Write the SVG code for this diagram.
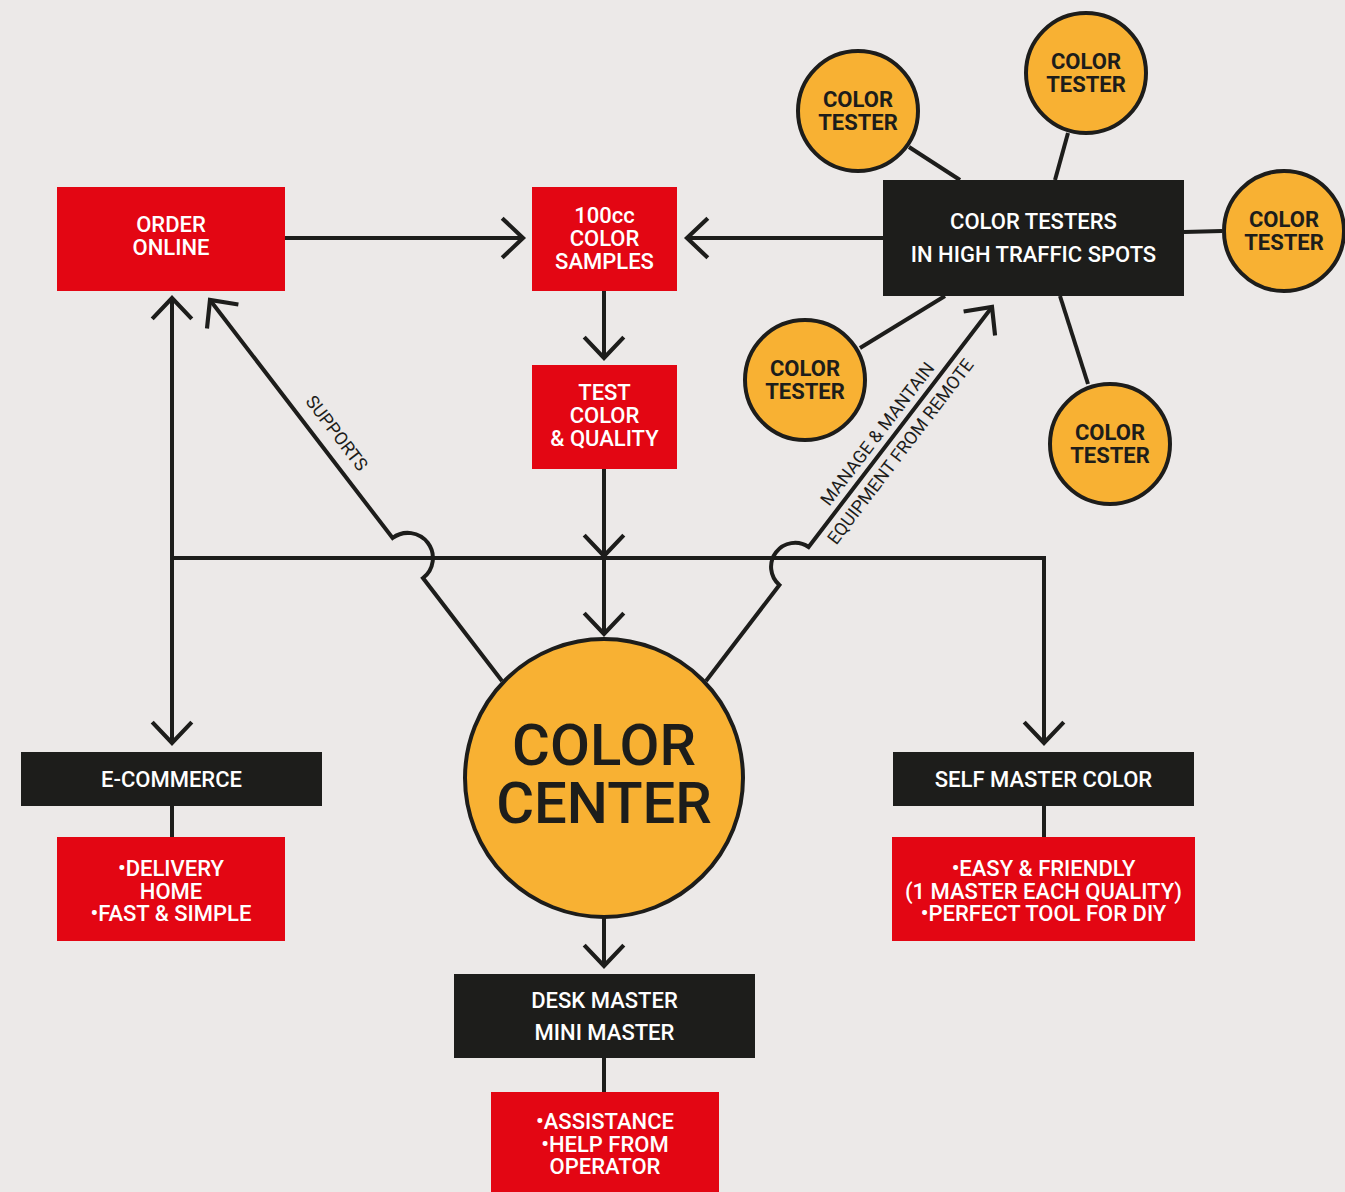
<svg xmlns="http://www.w3.org/2000/svg" width="1345" height="1192" viewBox="0 0 1345 1192">
<defs>
<marker id="chev" markerUnits="userSpaceOnUse" markerWidth="40" markerHeight="50" viewBox="-24 -24 28 48" refX="0" refY="0" orient="auto" overflow="visible">
<path d="M -20 -19 L 0 0 L -20 19" fill="none" stroke="#1d1d1b" stroke-width="4"/>
</marker>
</defs>
<style>
.bg{fill:#ece9e8}
.red{fill:#e30613}
.dark{fill:#1d1d1b}
.orb{fill:#f8b133;stroke:#1d1d1b;stroke-width:4}
.ln{fill:none;stroke:#1d1d1b;stroke-width:4}
.arr{fill:none;stroke:#1d1d1b;stroke-width:4;marker-end:url(#chev)}
.wt{font-family:Roboto,"Liberation Sans",sans-serif;font-weight:500;font-size:22px;fill:#ffffff;text-anchor:middle}
.ct{font-family:Roboto,"Liberation Sans",sans-serif;font-weight:700;font-size:22px;fill:#1d1d1b;text-anchor:middle}
.big{font-family:Roboto,"Liberation Sans",sans-serif;font-weight:500;font-size:58px;fill:#1d1d1b;text-anchor:middle}
.lbl{font-family:Roboto,"Liberation Sans",sans-serif;font-weight:400;font-size:18px;fill:#1d1d1b;text-anchor:middle}
</style>
<rect class="bg" x="0" y="0" width="1345" height="1192"/>

<g id="connectors">
<path class="arr" d="M285 238 H523"/>
<path class="arr" d="M883 238 H687"/>
<path class="arr" d="M604 291 V358"/>
<path class="arr" d="M604 469 V556"/>
<path class="arr" d="M604 558 V634"/>
<path class="arr" d="M172 558 V298"/>
<path class="arr" d="M172 558 V743"/>
<path class="arr" d="M172 558 H1044 V743"/>
<path class="arr" d="M604 918 V966"/>
<path class="ln" d="M172 806 V837"/>
<path class="ln" d="M1044 806 V837"/>
<path class="ln" d="M604 1058 V1092"/>
<path class="arr" d="M502 681 L423 578 A25 25 0 0 0 392.6 538 L210 300"/>
<path class="arr" d="M706 681 L779.4 585 A24 24 0 0 1 808.6 547 L992 307"/>
<path class="ln" d="M909 147 L960 180"/>
<path class="ln" d="M1068 133 L1055 180"/>
<path class="ln" d="M1184 232 L1222 231"/>
<path class="ln" d="M860 348 L945 296"/>
<path class="ln" d="M1088 384 L1060 296"/>
<g transform="translate(337,433) rotate(52.6)"><text class="lbl" x="0" y="6.5">SUPPORTS</text></g>
<g transform="translate(888.6,442.6) rotate(-52.6)">
<text class="lbl" x="0" y="-8">MANAGE &amp; MANTAIN</text>
<text class="lbl" x="0" y="21">EQUIPMENT FROM REMOTE</text>
</g>
</g>

<g id="order-online">
<rect class="red" x="57" y="187" width="228" height="104"/>
<text class="wt" x="171" y="232">ORDER</text>
<text class="wt" x="171" y="255">ONLINE</text>
</g>
<g id="color-samples">
<rect class="red" x="532" y="187" width="145" height="104"/>
<text class="wt" x="604.5" y="223">100cc</text>
<text class="wt" x="604.5" y="246">COLOR</text>
<text class="wt" x="604.5" y="269">SAMPLES</text>
</g>
<g id="test-color">
<rect class="red" x="532" y="365" width="145" height="104"/>
<text class="wt" x="604.5" y="400">TEST</text>
<text class="wt" x="604.5" y="423">COLOR</text>
<text class="wt" x="604.5" y="446">&amp; QUALITY</text>
</g>
<g id="color-testers">
<rect class="dark" x="883" y="180" width="301" height="116"/>
<text class="wt" x="1033.5" y="229">COLOR TESTERS</text>
<text class="wt" x="1033.5" y="262">IN HIGH TRAFFIC SPOTS</text>
</g>
<g id="tester-1">
<circle class="orb" cx="858" cy="111" r="60"/>
<text class="ct" x="858" y="107">COLOR</text>
<text class="ct" x="858" y="130">TESTER</text>
</g>
<g id="tester-2">
<circle class="orb" cx="1086" cy="73" r="60"/>
<text class="ct" x="1086" y="69">COLOR</text>
<text class="ct" x="1086" y="92">TESTER</text>
</g>
<g id="tester-3">
<circle class="orb" cx="1284" cy="231" r="60"/>
<text class="ct" x="1284" y="227">COLOR</text>
<text class="ct" x="1284" y="250">TESTER</text>
</g>
<g id="tester-4">
<circle class="orb" cx="805" cy="380" r="60"/>
<text class="ct" x="805" y="376">COLOR</text>
<text class="ct" x="805" y="399">TESTER</text>
</g>
<g id="tester-5">
<circle class="orb" cx="1110" cy="444" r="60"/>
<text class="ct" x="1110" y="440">COLOR</text>
<text class="ct" x="1110" y="463">TESTER</text>
</g>
<g id="color-center">
<circle class="orb" cx="604" cy="778" r="139"/>
<text class="big" x="604" y="765">COLOR</text>
<text class="big" x="604" y="823">CENTER</text>
</g>
<g id="e-commerce">
<rect class="dark" x="21" y="752" width="301" height="54"/>
<text class="wt" x="171.5" y="787">E-COMMERCE</text>
</g>
<g id="delivery">
<rect class="red" x="57" y="837" width="228" height="104"/>
<text class="wt" x="171" y="876">•DELIVERY</text>
<text class="wt" x="171" y="899">HOME</text>
<text class="wt" x="171" y="921">•FAST &amp; SIMPLE</text>
</g>
<g id="self-master">
<rect class="dark" x="893" y="752" width="301" height="54"/>
<text class="wt" x="1043.5" y="787">SELF MASTER COLOR</text>
</g>
<g id="easy-friendly">
<rect class="red" x="892" y="837" width="303" height="104"/>
<text class="wt" x="1043.5" y="876">•EASY &amp; FRIENDLY</text>
<text class="wt" x="1043.5" y="899">(1 MASTER EACH QUALITY)</text>
<text class="wt" x="1043.5" y="921">•PERFECT TOOL FOR DIY</text>
</g>
<g id="desk-master">
<rect class="dark" x="454" y="974" width="301" height="84"/>
<text class="wt" x="604.5" y="1008">DESK MASTER</text>
<text class="wt" x="604.5" y="1040">MINI MASTER</text>
</g>
<g id="assistance">
<rect class="red" x="491" y="1092" width="228" height="100"/>
<text class="wt" x="605" y="1129">•ASSISTANCE</text>
<text class="wt" x="605" y="1152">•HELP FROM</text>
<text class="wt" x="605" y="1174">OPERATOR</text>
</g>
</svg>
